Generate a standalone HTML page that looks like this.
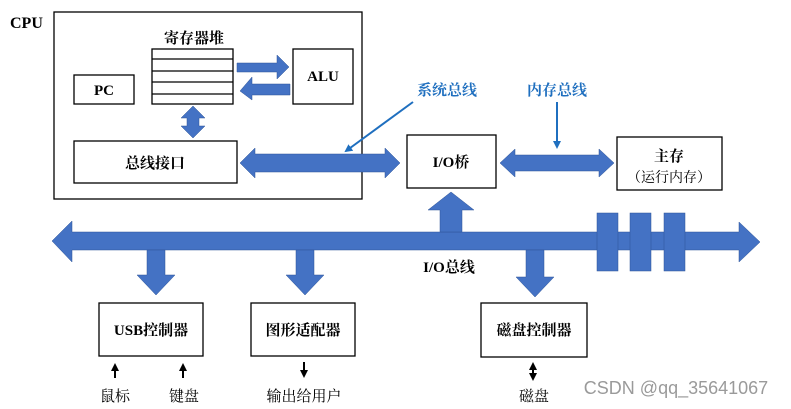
<!DOCTYPE html>
<html><head><meta charset="utf-8"><style>
html,body{margin:0;padding:0;background:#fff;}
svg{display:block;}
text{font-family:"Liberation Serif","Noto Serif CJK SC","Noto Sans CJK SC",serif;}
.b{font-weight:bold;}
</style></head><body>
<svg width="791" height="409" viewBox="0 0 791 409" xmlns="http://www.w3.org/2000/svg">
<defs>
<marker id="ah" markerWidth="8" markerHeight="8" refX="6" refY="4" orient="auto" markerUnits="userSpaceOnUse"><path d="M0,0 L8,4 L0,8 z" fill="#1f6fbf"/></marker>
<marker id="bk" markerWidth="8" markerHeight="8" refX="6" refY="4" orient="auto" markerUnits="userSpaceOnUse"><path d="M0,0 L8,4 L0,8 z" fill="#000"/></marker>
</defs>
<g fill="none" stroke="#000" stroke-width="1.3">
<rect x="54" y="12" width="308" height="187"/>
<rect x="152" y="49" width="81" height="55"/>
<line x1="152" y1="59" x2="233" y2="59"/><line x1="152" y1="71" x2="233" y2="71"/>
<line x1="152" y1="82" x2="233" y2="82"/><line x1="152" y1="94" x2="233" y2="94"/>
<rect x="293" y="49" width="60" height="55"/>
<rect x="74" y="75" width="60" height="29"/>
<rect x="74" y="141" width="163" height="42"/>
<rect x="407" y="135" width="89" height="53"/>
<rect x="617" y="137" width="105" height="53"/>
<rect x="99" y="303" width="104" height="53"/>
<rect x="251" y="303" width="104" height="53"/>
<rect x="481" y="303" width="106" height="54"/>
</g>
<g fill="#4472c4" stroke="#2f5597" stroke-width="0.5">
<path d="M237,63 H277 V55 L289,67 L277,79 V72 H237 z"/>
<path d="M290,84 H252 V77 L240,91 L252,100 V95 H290 z"/>
<path d="M193,106 L205,118 H199 V126 H205 L193,138 L181,126 H187 V118 H181 z"/>
<path d="M240,163 L255,148 V154 H385 V148 L400,163 L385,178 V172 H255 V178 z"/>
<path d="M500,163 L515,149 V155 H599 V149 L614,163 L599,177 V171 H515 V177 z"/>
<path d="M52,241 L72,221 V232 H739 V222 L760,242 L739,262 V250 H72 V262 z"/>
<path d="M440,232 V210 H428 L451,192 L474,210 H462 V232 z"/>
<path d="M147,250 H165 V275 H175 L156,295 L137,275 H147 z"/>
<path d="M296,250 H314 V275 H324 L305,295 L286,275 H296 z"/>
<path d="M526,250 H544 V277 H554 L535,297 L516,277 H526 z"/>
<rect x="597" y="213" width="21" height="58"/>
<rect x="630" y="213" width="21" height="58"/>
<rect x="664" y="213" width="21" height="58"/>
</g>
<g stroke="#1f6fbf" stroke-width="2" fill="none">
<line x1="413" y1="102" x2="346" y2="151" marker-end="url(#ah)"/>
<line x1="557" y1="102" x2="557" y2="147" marker-end="url(#ah)"/>
</g>
<g stroke="#000" stroke-width="2" fill="none">
<line x1="115" y1="378" x2="115" y2="365" marker-end="url(#bk)"/>
<line x1="183" y1="378" x2="183" y2="365" marker-end="url(#bk)"/>
<line x1="304" y1="362" x2="304" y2="376" marker-end="url(#bk)"/>
<line x1="533" y1="371" x2="533" y2="364" marker-end="url(#bk)"/>
<line x1="533" y1="371" x2="533" y2="379" marker-end="url(#bk)"/>
</g>
<g font-size="15" class="b" fill="#000">
<text x="10" y="28" font-size="16" class="b">CPU</text>
<text x="194" y="43" text-anchor="middle" class="b">寄存器堆</text>
<text x="323" y="81" text-anchor="middle" class="b">ALU</text>
<text x="104" y="95" text-anchor="middle" class="b">PC</text>
<text x="155" y="168" text-anchor="middle" class="b">总线接口</text>
<text x="451" y="167" text-anchor="middle" class="b">I/O桥</text>
<text x="669" y="161" text-anchor="middle" class="b">主存</text>
<text x="449" y="272" text-anchor="middle" class="b">I/O总线</text>
<text x="151" y="335" text-anchor="middle" class="b">USB控制器</text>
<text x="303" y="335" text-anchor="middle" class="b">图形适配器</text>
<text x="534" y="335" text-anchor="middle" class="b">磁盘控制器</text>
</g>
<text x="669" y="182" text-anchor="middle" font-size="14" fill="#000">（运行内存）</text>
<g font-size="15" class="b" fill="#1f6fbf">
<text x="447" y="95" text-anchor="middle">系统总线</text>
<text x="557" y="95" text-anchor="middle">内存总线</text>
</g>
<g font-size="15" fill="#000">
<text x="115" y="401" text-anchor="middle">鼠标</text>
<text x="184" y="401" text-anchor="middle">键盘</text>
<text x="304" y="401" text-anchor="middle">输出给用户</text>
<text x="534" y="401" text-anchor="middle">磁盘</text>
</g>
<text x="676" y="394" text-anchor="middle" font-size="18" fill="#9a9a9a" style="font-family:'Liberation Sans',sans-serif">CSDN @qq_35641067</text>
</svg>
</body></html>
